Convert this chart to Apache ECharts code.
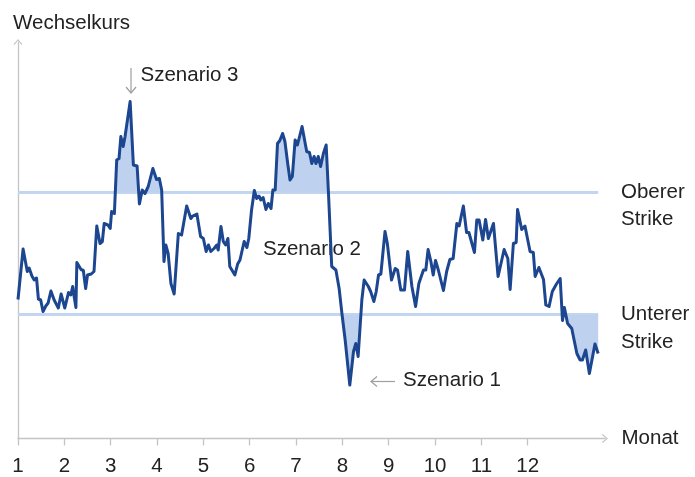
<!DOCTYPE html>
<html>
<head>
<meta charset="utf-8">
<script src="https://cdn.jsdelivr.net/npm/echarts@6/dist/echarts.min.js"></script>
<style>
  html, body { margin: 0; padding: 0; background: #fff; }
  #chart { width: 695px; height: 477px; }
</style>
</head>
<body>
<div id="chart"></div>
<script>
// month position (1 = start of month 1) and exchange rate index
const months = [
  1.00, 1.11, 1.20, 1.24, 1.30, 1.35, 1.40, 1.44, 1.49, 1.54, 1.60, 1.65, 1.71, 1.78, 1.87, 1.93, 2.01, 2.09, 2.14, 2.18,
  2.21, 2.25, 2.27, 2.36, 2.41, 2.46, 2.50, 2.58, 2.64, 2.70, 2.77, 2.82, 2.86, 2.94, 2.99, 3.02, 3.08, 3.13, 3.18, 3.22,
  3.27, 3.31, 3.42, 3.49, 3.57, 3.62, 3.68, 3.74, 3.81, 3.91, 3.99, 4.05, 4.10, 4.15, 4.19, 4.24, 4.30, 4.37, 4.46, 4.53,
  4.64, 4.73, 4.77, 4.86, 4.94, 5.00, 5.06, 5.11, 5.16, 5.23, 5.29, 5.32, 5.38, 5.43, 5.48, 5.53, 5.57, 5.68, 5.74, 5.79,
  5.83, 5.88, 5.94, 5.98, 6.04, 6.10, 6.15, 6.20, 6.24, 6.29, 6.35, 6.40, 6.46, 6.50, 6.55, 6.60, 6.65, 6.71, 6.76, 6.82,
  6.87, 6.92, 6.98, 7.03, 7.13, 7.23, 7.29, 7.34, 7.39, 7.43, 7.48, 7.53, 7.59, 7.65, 7.70, 7.77, 7.86, 7.93, 7.99, 8.06,
  8.16, 8.24, 8.29, 8.34, 8.42, 8.47, 8.56, 8.61, 8.68, 8.73, 8.78, 8.83, 8.92, 8.97, 9.06, 9.14, 9.19, 9.26, 9.34, 9.41,
  9.50, 9.58, 9.65, 9.75, 9.80, 9.85, 9.91, 9.96, 10.01, 10.07, 10.18, 10.25, 10.29, 10.32, 10.39, 10.47, 10.52, 10.61, 10.68, 10.73,
  10.85, 10.90, 10.95, 11.03, 11.09, 11.15, 11.26, 11.36, 11.49, 11.57, 11.62, 11.69, 11.75, 11.78, 11.87, 11.94, 12.05, 12.12, 12.16, 12.24,
  12.34, 12.39, 12.46, 12.53, 12.62, 12.70, 12.75, 12.79, 12.82, 12.86, 12.95, 13.00, 13.06, 13.13, 13.18, 13.25, 13.33, 13.45, 13.52
]
const rate = [
  139, 189.5, 167, 170.5, 162.5, 158.5, 160.5, 139.5, 138.5, 127, 132.5, 135.5, 147.5, 138.5, 130.5, 144.5, 130.5, 146, 143.5, 152,
  142.5, 131, 176, 169, 168, 150, 163.5, 164.5, 167, 212.5, 195, 197, 215, 213.5, 210, 227, 225, 278.5, 280, 302,
  292, 302, 337, 273.5, 272.5, 234.5, 248.5, 245, 252, 270, 259, 260, 248.5, 177, 193.5, 185, 155, 144.5, 205, 203.5,
  232.5, 220, 222.5, 224.5, 202, 200, 187, 193.5, 187, 190, 193.5, 188.5, 212, 197, 193.5, 200, 172, 163.5, 174.5, 178.5,
  177, 197, 191, 200, 228.5, 248, 240, 242.5, 238.5, 241, 229, 235, 230, 248.5, 248.5, 295, 298, 305, 297, 275,
  258.5, 262, 298.5, 293.5, 312, 287, 286, 275, 282, 275, 282, 272, 285, 293.5, 245, 172, 168.5, 150, 125, 98.5,
  53.5, 87, 95, 82, 138.5, 158.5, 152, 147, 137, 147, 163.5, 164.5, 207, 195, 158.5, 170, 168.5, 148.5, 148.5, 187,
  152, 132, 155, 168.5, 168.5, 189, 177, 163.5, 178, 168.5, 148, 167, 167, 179, 180, 215, 212.5, 232.5, 206, 206,
  186, 218.5, 218.5, 198.5, 219, 200, 215, 162, 189, 180, 149, 195, 196, 229, 209, 212.5, 187, 186, 162, 171,
  159, 133.5, 132, 147, 154.5, 160, 118, 131, 132.5, 115, 110, 98.5, 85, 78.5, 78.5, 88.5, 65, 94.5, 85
]

const upperStrike = 246
const lowerStrike = 124
const monthTicks = [1, 2, 3, 4, 5, 6, 7, 8, 9, 10, 11, 12]

const font = '"Liberation Sans", Arial, Helvetica, sans-serif'
const fontSize = 20.5
const textColor = '#222'
const axisColor = '#c4c4c4'
const lineColor = '#1c4690'
const fillColor = '#bed1ee'
const strikeColor = '#c2d5f1'
const arrowGrey = '#9e9e9e'

const chevron = 'path://M5,0 L10,6 L9,6.8 L5,1.8 L1,6.8 L0,6 Z'

const pairs = months.map((m, i) => [m, rate[i]])
const lastMonth = months[months.length - 1]

const chart = echarts.init(document.getElementById('chart'), null, { renderer: 'canvas' })

const txt = (x, y, s) => ({
  type: 'text',
  x: x,
  y: y,
  style: { text: s, fill: textColor, font: fontSize + 'px ' + font, textVerticalAlign: 'middle', textAlign: 'left' },
})

chart.setOption({
  animation: false,
  backgroundColor: '#fff',
  grid: { left: 18, right: 90, top: 42, bottom: 38.5 },
  xAxis: {
    type: 'value',
    min: 1,
    max: 13.667,
    name: 'Monat',
    nameLocation: 'end',
    nameGap: 16.5,
    nameTextStyle: { color: textColor, fontSize: fontSize, fontFamily: font, verticalAlign: 'middle', padding: [58, 0, 0, 0] },
    axisLine: {
      lineStyle: { color: axisColor, width: 1.3 },
      symbol: ['none', chevron],
      symbolSize: [10, 6],
    },
    axisTick: { show: true, length: 7, customValues: monthTicks, lineStyle: { color: axisColor, width: 1.3 } },
    axisLabel: { customValues: monthTicks, margin: 17, color: textColor, fontSize: fontSize, fontFamily: font },
    splitLine: { show: false },
  },
  yAxis: {
    type: 'value',
    min: 0,
    max: 396.5,
    axisLine: {
      show: true,
      lineStyle: { color: axisColor, width: 1.3 },
      symbol: ['none', chevron],
      symbolSize: [10, 6],
    },
    axisTick: { show: false },
    axisLabel: { show: false },
    splitLine: { show: false },
  },
  series: [
    {
      type: 'line',
      data: [[1, upperStrike], [lastMonth, upperStrike]],
      symbol: 'none',
      lineStyle: { color: strikeColor, width: 3 },
      z: 1,
    },
    {
      type: 'line',
      data: [[1, lowerStrike], [lastMonth, lowerStrike]],
      symbol: 'none',
      lineStyle: { color: strikeColor, width: 3 },
      z: 1,
    },
    {
      type: 'line',
      data: pairs.map(p => [p[0], Math.max(p[1], upperStrike)]),
      symbol: 'none',
      lineStyle: { width: 0 },
      areaStyle: { origin: upperStrike, color: fillColor, opacity: 1 },
      z: 2,
    },
    {
      type: 'line',
      data: pairs.map(p => [p[0], Math.min(p[1], lowerStrike)]),
      symbol: 'none',
      lineStyle: { width: 0 },
      areaStyle: { origin: lowerStrike, color: fillColor, opacity: 1 },
      z: 2,
    },
    {
      type: 'line',
      data: pairs,
      symbol: 'none',
      lineStyle: { color: lineColor, width: 3, join: 'round' },
      z: 3,
    },
  ],
  graphic: [
    txt(13, 23.5, 'Wechselkurs'),
    txt(140.5, 75, 'Szenario 3'),
    txt(263, 249, 'Szenario 2'),
    txt(403, 380, 'Szenario 1'),
    txt(621, 192.5, 'Oberer'),
    txt(621, 219.5, 'Strike'),
    txt(621, 314.5, 'Unterer'),
    txt(621, 342, 'Strike'),
    { type: 'polyline', shape: { points: [[131, 68], [131, 93]] }, style: { stroke: arrowGrey, lineWidth: 1.2 } },
    { type: 'polyline', shape: { points: [[126, 87], [131, 93], [136, 87]] }, style: { stroke: arrowGrey, lineWidth: 1.2, fill: null } },
    { type: 'polyline', shape: { points: [[371, 381.5], [395, 381.5]] }, style: { stroke: arrowGrey, lineWidth: 1.2 } },
    { type: 'polyline', shape: { points: [[377, 376.5], [371, 381.5], [377, 386.5]] }, style: { stroke: arrowGrey, lineWidth: 1.2, fill: null } },
  ],
})
</script>
</body>
</html>
